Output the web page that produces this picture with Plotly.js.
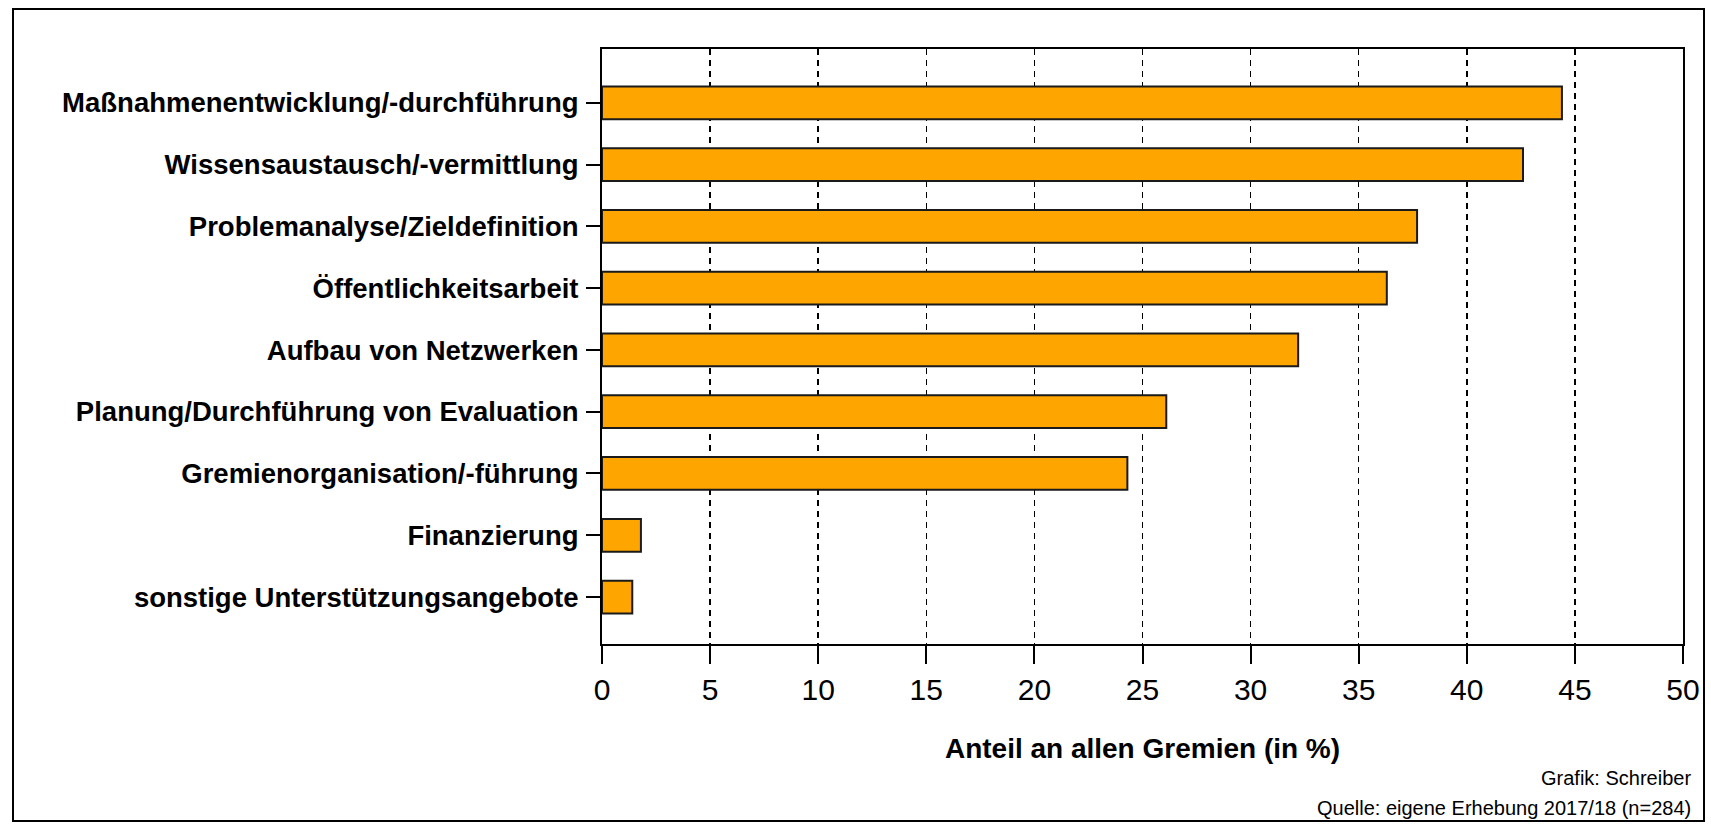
<!DOCTYPE html>
<html><head><meta charset="utf-8">
<script src="https://cdn.plot.ly/plotly-3.0.1.min.js"></script>
<style>html,body{margin:0;padding:0;background:#fff;}#chart{width:1711px;height:824px;}</style>
</head><body><div id="chart"></div>
<script>
const categories = [
  "Maßnahmenentwicklung/-durchführung",
  "Wissensaustausch/-vermittlung",
  "Problemanalyse/Zieldefinition",
  "Öffentlichkeitsarbeit",
  "Aufbau von Netzwerken",
  "Planung/Durchführung von Evaluation",
  "Gremienorganisation/-führung",
  "Finanzierung",
  "sonstige Unterstützungsangebote"
];
const values = [44.4, 42.6, 37.7, 36.3, 32.2, 26.1, 24.3, 1.8, 1.4];
const xTicks = [0, 5, 10, 15, 20, 25, 30, 35, 40, 45, 50];
const xTitle = "Anteil an allen Gremien (in %)";
const credit1 = "Grafik: Schreiber";
const credit2 = "Quelle: eigene Erhebung 2017/18 (n=284)";

const narrow = "'Liberation Sans Narrow', 'Arial Narrow', 'Liberation Sans', Arial, sans-serif";

const trace = {
  type: 'bar', orientation: 'h',
  x: values, y: categories,
  marker: {color: '#FFA500', line: {color: '#1a1a1a', width: 2}},
  width: 0.53,
  hoverinfo: 'x+y'
};

const layout = {
  width: 1711, height: 824,
  margin: {l: 602, r: 28, t: 49, b: 180},
  paper_bgcolor: '#fff', plot_bgcolor: '#fff',
  showlegend: false,
  xaxis: {
    range: [0, 50], tickvals: xTicks, ticktext: xTicks.map(String),
    showgrid: true, gridcolor: '#000', gridwidth: 1.5, griddash: '6px,5px',
    zeroline: false, showline: true, linecolor: '#000', linewidth: 2, mirror: true,
    ticks: 'outside', ticklen: 18, tickwidth: 2, tickcolor: '#000',
    tickfont: {family: narrow, size: 30, color: '#000'},
    title: {text: xTitle, font: {family: narrow, size: 28, color: '#000', weight: 'bold'}, standoff: 33}
  },
  yaxis: {
    type: 'category', categoryorder: 'array', categoryarray: categories,
    range: [8.76, -0.87],
    showgrid: false, zeroline: false, showline: true, linecolor: '#000', linewidth: 2, mirror: true,
    ticks: 'outside', ticklen: 14, tickwidth: 2, tickcolor: '#000',
    ticklabelstandoff: 2,
    tickfont: {family: narrow, size: 27.5, color: '#000', weight: 'bold'}
  },
  annotations: [
    {text: credit1, xref: 'paper', yref: 'paper', x: (1693-602)/1081, y: (644-778)/595, xanchor: 'right', yanchor: 'middle', showarrow: false, font: {family: narrow, size: 20, color: '#000'}},
    {text: credit2, xref: 'paper', yref: 'paper', x: (1693-602)/1081, y: (644-808)/595, xanchor: 'right', yanchor: 'middle', showarrow: false, font: {family: narrow, size: 20, color: '#000'}}
  ],
  shapes: [
    {type: 'rect', xref: 'paper', yref: 'paper', x0: (13-602)/1081, x1: (1704-602)/1081, y0: (644-821)/595, y1: (644-9)/595, line: {color: '#000', width: 2}, fillcolor: 'rgba(0,0,0,0)', layer: 'below'}
  ]
};

Plotly.newPlot('chart', [trace], layout, {displayModeBar: false, staticPlot: true});
</script></body></html>
